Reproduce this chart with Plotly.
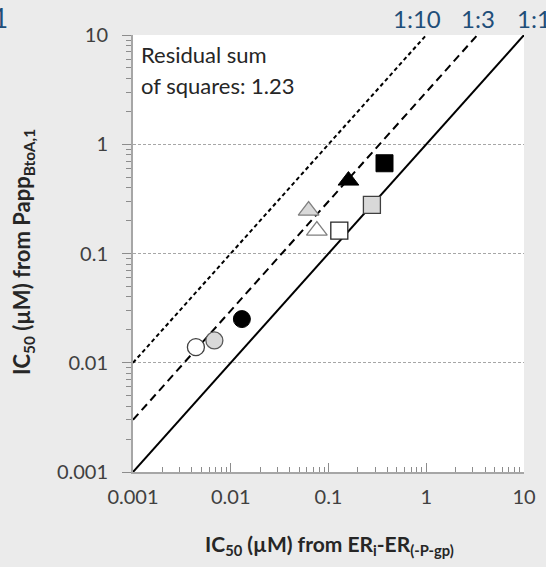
import plotly.graph_objects as go

# ---- data (IC50 values, µM) ----
shapes_cat = ["circle", "triangle-up", "square"]
x_open = [0.0044, 0.076, 0.129]
y_open = [0.0139, 0.162, 0.162]
x_gray = [0.0068, 0.0626, 0.278]
y_gray = [0.0160, 0.247, 0.279]
x_filled = [0.0130, 0.160, 0.374]
y_filled = [0.0251, 0.465, 0.670]

ref_ratios = [1, 3, 10]
ref_labels = ["1:1", "1:3", "1:10"]
line_x_start = 0.001
line_y_max = 10.0

tick_vals = [0.001, 0.01, 0.1, 1, 10]
tick_text = ["0.001", "0.01", "0.1", "1", "10"]
minor_vals = [m * d for d in [0.001, 0.01, 0.1, 1] for m in range(2, 10)]

# ---- layout geometry (pixels) ----
W, H = 546, 567
L, R, T, B = 133, 22, 35, 95
PW, PH = W - L - R, H - T - B

def px(xp):
    return (xp - L) / PW

def py(yp):
    return 1 - (yp - T) / PH

FONT = "Lato"
TXT = "#404040"
BLUE = "#1f4e79"

fig = go.Figure()

# reference lines
dashes = {1: "solid", 3: "8px,5px", 10: "4px,3px"}
for r in ref_ratios:
    x_end = line_y_max / r
    fig.add_trace(go.Scatter(
        x=[line_x_start, x_end], y=[line_x_start * r, line_y_max],
        mode="lines", line=dict(color="black", width=2, dash=dashes[r]),
        hoverinfo="skip", showlegend=False))

sizes = [17, 18, 17]
fig.add_trace(go.Scatter(
    x=x_open, y=y_open, mode="markers", showlegend=False,
    marker=dict(symbol=shapes_cat, size=sizes, color="white", opacity=1,
                line=dict(color=["#404040", "#7f7f7f", "#262626"], width=1.3))))
fig.add_trace(go.Scatter(
    x=x_gray, y=y_gray, mode="markers", showlegend=False,
    marker=dict(symbol=shapes_cat, size=sizes, color="#d9d9d9", opacity=1,
                line=dict(color=["#595959", "#7f7f7f", "#404040"], width=1.3))))
fig.add_trace(go.Scatter(
    x=x_filled, y=y_filled, mode="markers", showlegend=False,
    marker=dict(symbol=shapes_cat, size=sizes, color="black", opacity=1,
                line=dict(color="black", width=1))))

axis_common = dict(
    type="log", range=[-3, 1], tickvals=tick_vals, ticktext=tick_text,
    tickfont=dict(family=FONT, size=20, color=TXT),
    showline=True, linecolor="#a6a6a6", linewidth=2,
    ticklen=9, tickwidth=1, tickcolor="#8c8c8c",
    zeroline=False, automargin=False,
)

fig.update_xaxes(**axis_common, ticks="inside", showgrid=False,
                 minor=dict(ticks="inside", ticklen=5, tickwidth=1,
                            tickcolor="#8c8c8c", tickvals=minor_vals, showgrid=False),
                 ticklabelstandoff=6)
fig.update_yaxes(**axis_common, ticks="outside", showgrid=True,
                 gridcolor="#a6a6a6", gridwidth=1, griddash="3px,2px",
                 minor=dict(ticks="outside", ticklen=5, tickwidth=1,
                            tickcolor="#8c8c8c", tickvals=minor_vals, showgrid=False),
                 ticklabelstandoff=10)

ann = []
# axis titles
ann.append(dict(text="<b>IC<sub>50</sub> (µM) from ER<sub>i</sub>-ER<sub>(-P-gp)</sub></b>",
                x=px(329), y=py(545), xref="paper", yref="paper",
                xanchor="center", yanchor="middle", showarrow=False,
                font=dict(family=FONT, size=21, color="#262626")))
ann.append(dict(text="<b>IC<sub>50</sub> (µM) from Papp<sub>BtoA,1</sub></b>",
                x=px(23), y=py(252), xref="paper", yref="paper", textangle=-90,
                xanchor="center", yanchor="middle", showarrow=False,
                font=dict(family=FONT, size=22, color="#262626")))
# residual text
ann.append(dict(text="Residual sum", x=px(139), y=py(55), xref="paper", yref="paper",
                xanchor="left", yanchor="middle", showarrow=False,
                font=dict(family=FONT, size=22, color="#262626")))
ann.append(dict(text="of squares: 1.23", x=px(139), y=py(86), xref="paper", yref="paper",
                xanchor="left", yanchor="middle", showarrow=False,
                font=dict(family=FONT, size=22, color="#262626")))
# ratio labels
for lab, xc in zip(["1:10", "1:3"], [417, 477.5]):
    ann.append(dict(text=lab, x=px(xc), y=py(18), xref="paper", yref="paper",
                    xanchor="center", yanchor="middle", showarrow=False,
                    font=dict(family=FONT, size=24, color=BLUE)))
ann.append(dict(text="1:1", x=px(515), y=py(18), xref="paper", yref="paper",
                xanchor="left", yanchor="middle", showarrow=False,
                font=dict(family=FONT, size=24, color=BLUE)))
ann.append(dict(text="1", x=px(10), y=py(18), xref="paper", yref="paper",
                xanchor="right", yanchor="middle", showarrow=False,
                font=dict(family=FONT, size=26, color=BLUE)))

fig.update_layout(
    width=W, height=H, margin=dict(l=L, r=R, t=T, b=B),
    paper_bgcolor="#ebebeb", plot_bgcolor="white",
    annotations=ann, showlegend=False,
)

fig.write_html(
    "out.html",
    config={"displayModeBar": False},
    post_script="document.body.style.margin='0';document.body.style.background='#ebebeb';",
)
